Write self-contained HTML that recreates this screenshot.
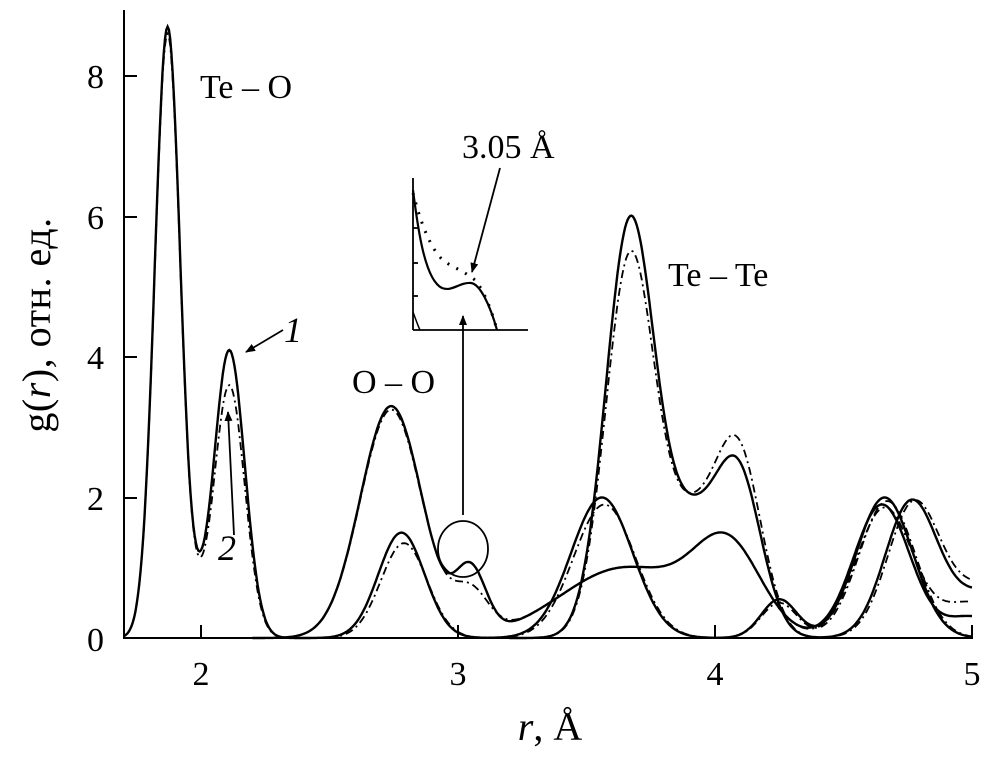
<!DOCTYPE html>
<html><head><meta charset="utf-8"><style>
body{margin:0;background:#fff}
svg{display:block}
text{font-family:"Liberation Serif",serif;fill:#000}
</style></head><body>
<svg id="s" width="996" height="763" xmlns="http://www.w3.org/2000/svg">
<defs><marker id="ah" markerWidth="10" markerHeight="10" refX="9" refY="5" orient="auto" markerUnits="userSpaceOnUse"><path d="M0,1 L10,5 L0,9 z" fill="#000"/></marker></defs>
<g stroke="#000" stroke-width="2" fill="none">
<line x1="124" y1="10" x2="124" y2="639"/>
<line x1="123" y1="638" x2="973" y2="638"/>
<line x1="124" y1="76" x2="137" y2="76"/><line x1="124" y1="217" x2="137" y2="217"/><line x1="124" y1="357" x2="137" y2="357"/><line x1="124" y1="498" x2="137" y2="498"/>
<line x1="201" y1="638" x2="201" y2="625"/><line x1="458" y1="638" x2="458" y2="625"/><line x1="715" y1="638" x2="715" y2="625"/><line x1="972" y1="638" x2="972" y2="625"/>
</g>
<g font-size="34" text-anchor="end">
<text x="104" y="88">8</text><text x="104" y="229">6</text><text x="104" y="369">4</text><text x="104" y="510">2</text><text x="104" y="651">0</text>
</g>
<g font-size="34" text-anchor="middle">
<text x="201" y="685">2</text><text x="458" y="685">3</text><text x="715" y="685">4</text><text x="972" y="685">5</text>
</g>
<text x="550" y="740" font-size="40" text-anchor="middle"><tspan font-style="italic">r</tspan>, Å</text>
<text transform="translate(50,325) rotate(-90)" font-size="40" letter-spacing="0.5" text-anchor="middle">g(<tspan font-style="italic">r</tspan>), отн. ед.</text>
<text x="200" y="98" font-size="34">Te – O</text>
<text x="668" y="286" font-size="34">Te – Te</text>
<text x="352" y="393" font-size="34">O – O</text>
<text x="462" y="158" font-size="34">3.05 Å</text>
<text x="284" y="342" font-size="36" font-style="italic">1</text>
<text x="218" y="560" font-size="36" font-style="italic">2</text>
<g stroke="#000" stroke-width="1.8" fill="none">
<line x1="283" y1="330" x2="246" y2="352" marker-end="url(#ah)"/>
<line x1="234" y1="535" x2="228" y2="412" marker-end="url(#ah)"/>
<line x1="463" y1="515" x2="463" y2="316" marker-end="url(#ah)"/>
<line x1="500" y1="168" x2="472" y2="272" marker-end="url(#ah)"/>
<ellipse cx="463" cy="549" rx="25" ry="28"/>
<line x1="413" y1="178" x2="413" y2="330"/><line x1="413" y1="330" x2="528" y2="330"/>
<line x1="413" y1="228" x2="418" y2="228"/><line x1="413" y1="263" x2="418" y2="263"/><line x1="413" y1="296" x2="418" y2="296"/>
<path d="M413,190 C418,230 425,280 442,288 C452,292 460,282 471,283 C480,284 490,305 497,330" stroke-width="2.2"/>
<path d="M413,193 C420,220 430,250 445,262 C455,268 465,272 475,280 C485,292 492,312 497,330" stroke-dasharray="2,8" stroke-width="3"/>
<path d="M413,312 C416,320 418,326 420,330" stroke-width="1.5"/>
</g>
<g id="curves" fill="none" stroke="#000"></g>
</svg>
<script>
function G(a,m,s){return function(x){return a*Math.exp(-(x-m)*(x-m)/(2*s*s));};}
function mk(fs){return function(x){var v=0;for(var i=0;i<fs.length;i++)v+=fs[i](x);return v;};}
function X(r){return 201+(r-2)*257;}function Y(v){return 638-v*70.25;}
function path(f,a,b){var d="";for(var r=a;r<=b+1e-9;r+=0.005){d+=(d?"L":"M")+X(r).toFixed(1)+","+Y(f(r)).toFixed(1);}return d;}
var c=[
 [mk([G(8.7,1.87,0.05),G(4.1,2.11,0.06),G(0.2,1.99,0.03),G(1.5,2.78,0.09),G(2.0,3.56,0.12),G(0.55,4.25,0.07),G(2.0,4.66,0.11)]),1.7,5,"","2.4"],
 [mk([G(8.6,1.87,0.05),G(3.6,2.11,0.06),G(0.2,1.99,0.03),G(1.35,2.79,0.09),G(1.9,3.57,0.12),G(0.5,4.25,0.07),G(1.95,4.67,0.11)]),1.7,5,"8,4,2,4","1.8"],
 [mk([G(3.3,2.74,0.12),G(0.9,3.05,0.06),G(1.0,3.65,0.25),G(1.2,4.05,0.13),G(1.9,4.65,0.11),G(0.3,5.0,0.1)]),2.2,5,"","2.4"],
 [mk([G(3.25,2.74,0.12),G(0.6,3.05,0.07),G(1.0,3.65,0.25),G(1.2,4.05,0.13),G(1.85,4.66,0.11),G(0.5,5.0,0.12)]),2.2,5,"8,4,2,4","1.8"],
 [mk([G(5.9,3.67,0.095),G(1.5,3.9,0.1),G(2.3,4.09,0.09),G(1.8,4.76,0.1),G(0.7,5.1,0.2)]),3.2,5,"","2.4"],
 [mk([G(5.4,3.67,0.095),G(1.5,3.9,0.1),G(2.6,4.09,0.09),G(1.75,4.77,0.1),G(0.8,5.1,0.2)]),3.2,5,"8,4,2,4","1.8"]
];
var g=document.getElementById("curves"),h="";
c.forEach(function(k){h+='<path d="'+path(k[0],k[1],k[2])+'" stroke-width="'+k[4]+'"'+(k[3]?' stroke-dasharray="'+k[3]+'"':'')+'/>';});
g.innerHTML=h;
</script>
</body></html>
